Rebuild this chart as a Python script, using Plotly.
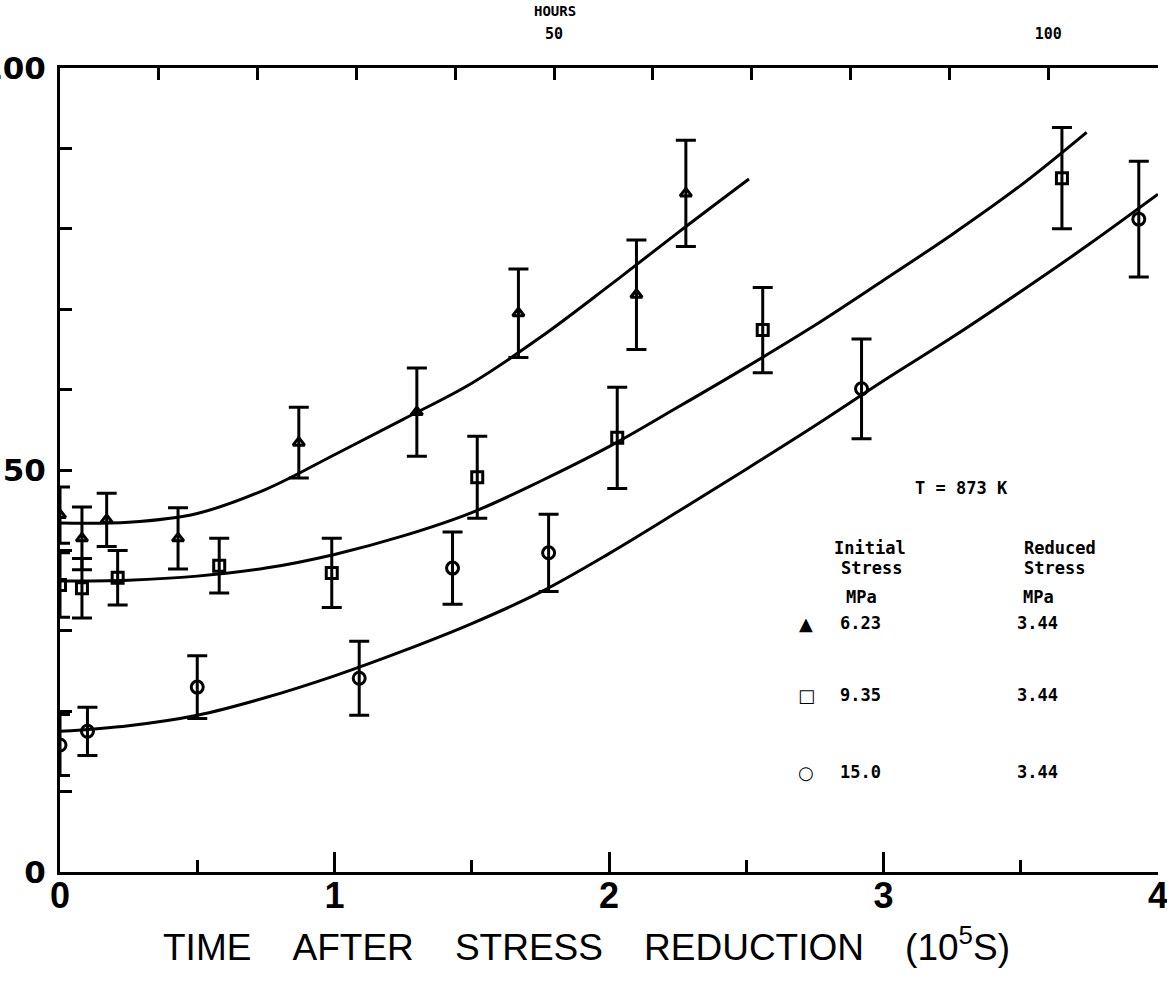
import plotly.graph_objects as go

# Creep strain data after stress reduction, T = 873 K (time in 1e5 s)
tri_x = [0.0, 0.08, 0.17, 0.43, 0.87, 1.30, 1.67, 2.10, 2.28]
tri_y = [44.4, 41.5, 43.8, 41.5, 53.4, 57.2, 69.5, 71.8, 84.4]
tri_err = [3.5, 3.9, 3.3, 3.8, 4.4, 5.5, 5.5, 6.8, 6.6]

sq_x = [0.0, 0.08, 0.21, 0.58, 0.99, 1.52, 2.03, 2.56, 3.65]
sq_y = [35.7, 35.3, 36.6, 38.1, 37.2, 49.1, 54.0, 67.4, 86.3]
sq_err = [4.0, 3.7, 3.4, 3.4, 4.3, 5.1, 6.3, 5.3, 6.3]

circ_x = [0.0, 0.10, 0.50, 1.09, 1.43, 1.78, 2.92, 3.93]
circ_y = [15.8, 17.5, 23.0, 24.1, 37.8, 39.7, 60.1, 81.2]
circ_err = [3.8, 3.0, 3.9, 4.6, 4.5, 4.8, 6.2, 7.2]

# Hand-drawn fit curves
fit_tri_x = [0.0, 0.25, 0.5, 0.75, 1.0, 1.25, 1.5, 1.75, 2.0, 2.25, 2.51]
fit_tri_y = [43.4, 43.5, 44.6, 47.6, 51.9, 56.3, 60.8, 66.5, 72.9, 79.5, 86.2]

fit_sq_x = [0.0, 0.25, 0.5, 0.75, 1.0, 1.25, 1.5, 1.75, 2.0, 2.25, 2.5, 2.75, 3.0, 3.25, 3.5, 3.74]
fit_sq_y = [36.2, 36.3, 36.8, 37.8, 39.5, 41.8, 44.7, 48.6, 52.9, 57.8, 62.8, 68.0, 73.6, 79.3, 85.4, 92.0]

fit_circ_x = [0.0, 0.25, 0.5, 0.75, 1.0, 1.25, 1.5, 1.75, 2.0, 2.25, 2.5, 2.75, 3.0, 3.25, 3.5, 3.75, 4.0]
fit_circ_y = [17.5, 18.2, 19.5, 21.7, 24.4, 27.5, 30.9, 34.8, 39.6, 44.8, 50.1, 55.5, 61.1, 66.5, 72.2, 78.1, 84.3]

# Axis ticks
x_ticks = [0, 1, 2, 3, 4]
x_minor = [0.5, 1.5, 2.5, 3.5]
y_ticks = [0, 10, 20, 30, 40, 50, 60, 70, 80, 90, 100]
y_labels = ["0", "", "", "", "", "50", "", "", "", "", "100"]
hour_ticks = [10, 20, 30, 40, 50, 60, 70, 80, 90, 100]
hour_labels = ["", "", "", "", "50", "", "", "", "", "100"]
hours_max = 4e5 / 3600.0

# Key table
initial_stress = ["6.23", "9.35", "15.0"]
reduced_stress = ["3.44", "3.44", "3.44"]
key_symbols = ["▲", "□", "○"]

W, H = 1167, 984
ML, MR, MT, MB = 60, 9, 68, 112
PW, PH = W - ML - MR, H - MT - MB

def paper(px, py):
    return (px - ML) / PW, (H - MB - py) / PH

fig = go.Figure()

for fx, fy in [(fit_tri_x, fit_tri_y), (fit_sq_x, fit_sq_y), (fit_circ_x, fit_circ_y)]:
    fig.add_trace(go.Scatter(x=fx, y=fy, mode="lines", line=dict(color="black", width=3, shape="spline", smoothing=1.0),
                             showlegend=False, hoverinfo="skip"))

for xs, ys, es, sym, sz in [(tri_x, tri_y, tri_err, "triangle-up-open", 10),
                            (sq_x, sq_y, sq_err, "square-open", 11),
                            (circ_x, circ_y, circ_err, "circle-open", 12)]:
    fig.add_trace(go.Scatter(
        x=xs, y=ys, mode="markers",
        marker=dict(symbol=sym, size=sz, color="black", line=dict(width=3, color="black")),
        error_y=dict(type="data", array=es, visible=True, color="black", thickness=3, width=10),
        showlegend=False))

# invisible trace to hold the hours axis
fig.add_trace(go.Scatter(x=[0, hours_max], y=[0, 0], xaxis="x2", mode="markers",
                         marker=dict(opacity=0), showlegend=False, hoverinfo="skip"))

small_font = dict(family="DejaVu Sans Mono", size=17, color="black")

fig.update_layout(
    width=W, height=H,
    margin=dict(l=ML, r=MR, t=MT, b=MB, autoexpand=False),
    paper_bgcolor="white", plot_bgcolor="white",
    xaxis=dict(range=[0, 4], tickvals=x_ticks, ticks="inside", ticklen=20, tickwidth=3, tickcolor="black",
               showline=True, linewidth=3, linecolor="black", showgrid=False, zeroline=False, automargin=False,
               tickfont=dict(family="Liberation Sans, Arial", size=36, color="black", weight="bold"),
               ticklabelstandoff=-10, ticklabeloverflow="allow",
               minor=dict(tickvals=x_minor, ticks="inside", ticklen=12, tickwidth=3, tickcolor="black", showgrid=False)),
    xaxis2=dict(range=[0, hours_max], overlaying="x", side="top", anchor="y", automargin=False,
                tickvals=hour_ticks, ticktext=hour_labels, ticks="inside", ticklen=12, tickwidth=3,
                tickcolor="black", showline=True, linewidth=3, linecolor="black", showgrid=False, zeroline=False,
                tickfont=dict(family="DejaVu Sans Mono", size=15, color="black", weight="bold"),
                ticklabelstandoff=20, ticklabeloverflow="allow"),
    yaxis=dict(range=[0, 100], tickvals=y_ticks, ticktext=y_labels, ticks="inside", ticklen=12, tickwidth=3,
               tickcolor="black", showline=True, linewidth=3, linecolor="black", showgrid=False, zeroline=False,
               automargin=False,
               tickfont=dict(family="DejaVu Sans, Arial", size=31, color="black", weight="bold"),
               ticklabelstandoff=5, ticklabeloverflow="allow"),
    yaxis2=dict(range=[0, 100], overlaying="y", side="right", anchor="x", tickvals=y_ticks, showticklabels=False,
                ticks="inside", ticklen=14, tickwidth=3, tickcolor="black", automargin=False,
                showline=True, linewidth=3, linecolor="black", showgrid=False, zeroline=False),
)

ann = []
def txt(s, px, py, xanchor="center", font=None):
    xp, yp = paper(px, py)
    ann.append(dict(text=s, x=xp, y=yp, xref="paper", yref="paper", xanchor=xanchor, yanchor="middle",
                    showarrow=False, font=font or dict(small_font, weight="bold")))

nb = "\u00a0"
txt(f"TIME{nb*4}AFTER{nb*4}STRESS{nb*4}REDUCTION{nb*4}(10<sup>5</sup>S)", 586, 944,
    font=dict(family="Liberation Sans, Arial", size=37, color="black"))
txt("HOURS", 555, 11, font=dict(family="DejaVu Sans Mono", size=14, color="black", weight="bold"))
txt("T = 873 K", 961, 488)
txt("Initial", 870, 548)
txt("Stress", 871, 568)
txt("MPa", 861, 597)
txt("Reduced", 1060, 548)
txt("Stress", 1054, 568)
txt("MPa", 1038, 597)
for i, yy in enumerate([623, 695, 772]):
    txt(key_symbols[i], 806, yy, font=dict(family="DejaVu Sans", size=18, color="black", weight="bold"))
    txt(initial_stress[i], 838, yy, xanchor="left")
    txt(reduced_stress[i], 1015, yy, xanchor="left")

fig.update_layout(annotations=ann)
fig.write_html("out.html")
